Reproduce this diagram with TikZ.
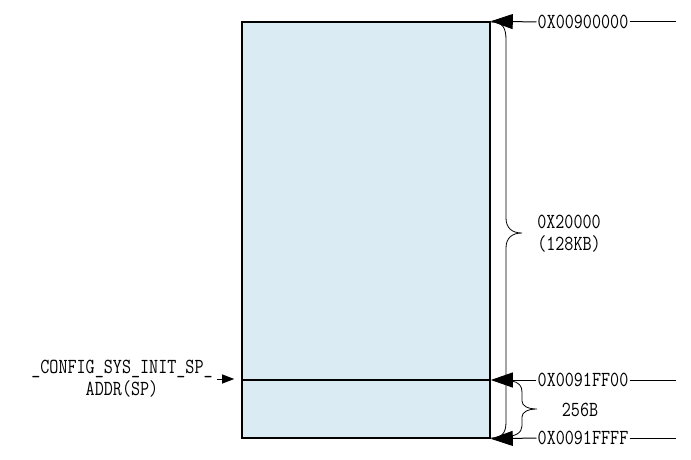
\documentclass[tikz,border=0pt]{standalone}
\usepackage{fontspec}
\usetikzlibrary{arrows.meta}
\definecolor{memfill}{HTML}{DAEBF3}
\newcommand{\talltxt}[1]{\scalebox{1}[1.22]{#1}}
\begin{document}
\begin{tikzpicture}[x=1pt,y=-1pt,
  lbl/.style={font=\ttfamily\fontsize{17.6}{22}\selectfont, inner sep=1pt, fill=white},
  plain/.style={font=\ttfamily\fontsize{17.6}{22}\selectfont, inner sep=1pt},
  bigarrow/.style={line width=1pt, -{Triangle[length=22pt,width=15pt]}},
  smallarrow/.style={line width=1pt, -{Triangle[length=12pt,width=9pt]}},
  brace/.style={line width=0.8pt}]
\useasboundingbox (0,0) rectangle (691,460);
\node[draw, line width=1.6pt, fill=memfill, minimum width=248pt, minimum height=416pt, inner sep=0pt] (mem) at (366,230) {};
\coordinate (div) at (0,380);
\draw[line width=1.6pt] (mem.west |- div) -- (mem.east |- div);
% right labels
\node[lbl] (a1) at (583,22) {\talltxt{0X00900000}};
\node[lbl] (a2) at (583,380) {\talltxt{0X0091FF00}};
\node[lbl] (a3) at (583,438) {\talltxt{0X0091FFFF}};
\coordinate (e1) at (676,22);
\coordinate (e2) at (676,380);
\coordinate (e3) at (676,438);
\draw[line width=1pt] (a1.east) -- (e1);
\draw[line width=1pt] (a2.east) -- (e2);
\draw[line width=1pt] (a3.east) -- (e3);
\draw[bigarrow] (a1.west) -- (mem.north east);
\draw[bigarrow] (a2.west) -- (mem.east |- div);
\draw[bigarrow] (a3.west) -- (mem.south east);
% big brace
\draw[brace] (491,22) .. controls (503,22) and (506,28) .. (506,40) -- (506,218)
  .. controls (506,228) and (512,233) .. (522,233)
  .. controls (512,233) and (506,238) .. (506,248) -- (506,422)
  .. controls (506,433) and (502,438) .. (491,438);
% small brace
\draw[brace] (511,381) .. controls (519,382) and (522,386) .. (522,392) -- (522,401)
  .. controls (522,406) and (528,409) .. (537,409)
  .. controls (528,409) and (522,412) .. (522,417) -- (522,426)
  .. controls (522,433) and (515,437) .. (502,437);
\node[plain] (b1) at (569,222) {\talltxt{0X20000}};
\node[plain] (b2) at (569,244) {\talltxt{(128KB)}};
\node[plain] (b3) at (580,410) {\talltxt{256B}};
% left label
\node[plain, align=center] (sp) at (122,379) {\talltxt{\_CONFIG\_SYS\_INIT\_SP\_}\\\talltxt{ADDR(SP)}};
\coordinate (s1) at (217,379);
\draw[smallarrow] (s1) -- ([xshift=-7pt]mem.west |- s1);
\end{tikzpicture}
\end{document}
